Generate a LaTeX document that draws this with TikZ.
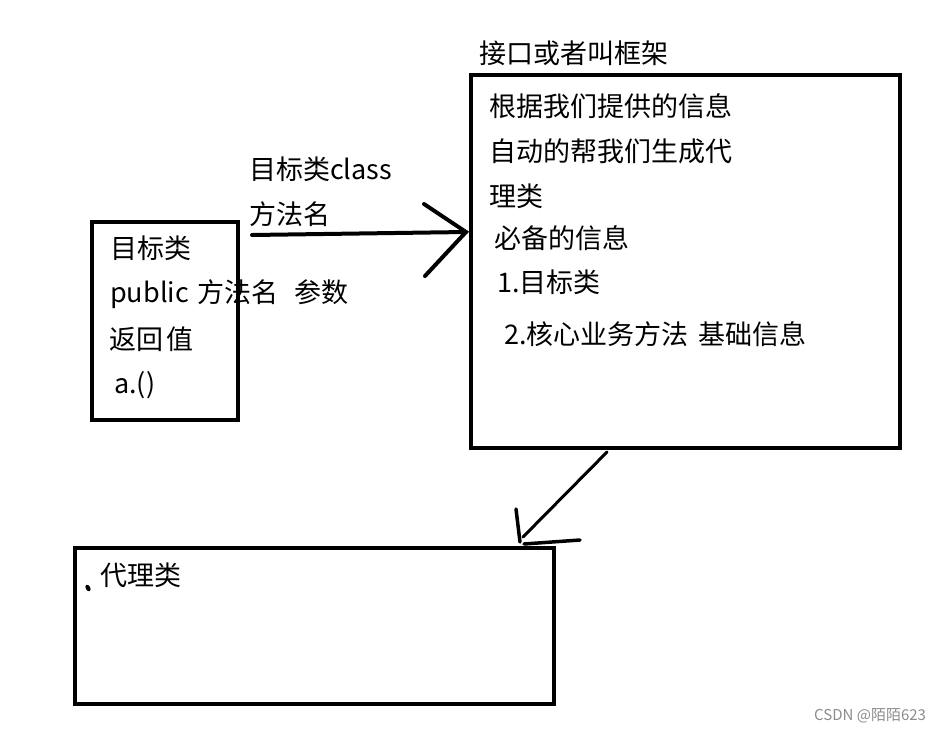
\documentclass[tikz,border=0pt]{standalone}
\usepackage{fontspec}
\newfontfamily\cjk{Noto Sans CJK SC}
\begin{document}
\begin{tikzpicture}[x=1pt,y=-1pt,
  box/.style={draw=black,line width=4pt,inner sep=0pt,outer sep=0pt},
  txt/.style={anchor=west,inner sep=0pt,font=\fontsize{27}{30}\selectfont\cjk},
  stroke/.style={line width=4pt,line cap=round},
  wm/.style={anchor=west,inner sep=0pt,text=black!45,font=\fontsize{15}{17}\selectfont\cjk}]
\useasboundingbox[fill=white] (0,0) rectangle (941,731);
% boxes
\node[box,minimum width=146pt,minimum height=198pt] (left) at (165,321) {};
\node[box,minimum width=429pt,minimum height=373pt] (right) at (685.5,261.5) {};
\node[box,minimum width=479pt,minimum height=156pt] (bottom) at (314.5,626) {};
% texts
\node[txt] (title) at (479,53) {接口或者叫框架};
\node[txt] (r1) at (489,106) {根据我们提供的信息};
\node[txt] (r2) at (489,151) {自动的帮我们生成代};
\node[txt] (r3) at (489,196) {理类};
\node[txt] (r4) at (494,238) {必备的信息};
\node[txt] (r5) at (497,282) {1.目标类};
\node[txt] (r6) at (504,334) {2.核心业务方法\hspace{10pt}基础信息};
\node[txt] (m1) at (249,169) {目标类class};
\node[txt] (m2) at (249,214) {方法名};
\node[txt] (l1) at (110,248) {目标类};
\node[txt] (l2) at (110,294) {public\hspace{9pt}方法名\hspace{16pt}参数};
\node[txt] (l3) at (109,339) {返回\hspace{3pt}值};
\node[txt] (l4) at (114,385) {a.()};
\node[txt] (p1) at (100,575) {代理类};
\node[wm] (w) at (814,716) {CSDN @陌陌623};
% dot
\fill[rotate around={-60:(88,588)}] (88,588) ellipse (3.5pt and 2.3pt);
% arrow 1
\coordinate (a1s) at (252,235);
\coordinate (a1e) at (466,232);
\coordinate (h1a) at (424,204);
\coordinate (h1b) at (425,276);
\draw[stroke] (a1s) -- (a1e);
\draw[stroke] (h1a) -- (a1e) -- (h1b);
% arrow 2
\coordinate (a2s) at (607,452);
\coordinate (a2e) at (523,537);
\coordinate (h2a) at (516,509);
\coordinate (h2b) at (520,542);
\coordinate (h2c) at (524,544);
\coordinate (h2d) at (580,540);
\draw[stroke,line width=3pt] (a2s) -- (a2e);
\draw[stroke,line width=3.5pt] (h2a) -- (h2b);
\draw[stroke,line width=3.5pt] (h2c) -- (h2d);
\end{tikzpicture}
\end{document}
